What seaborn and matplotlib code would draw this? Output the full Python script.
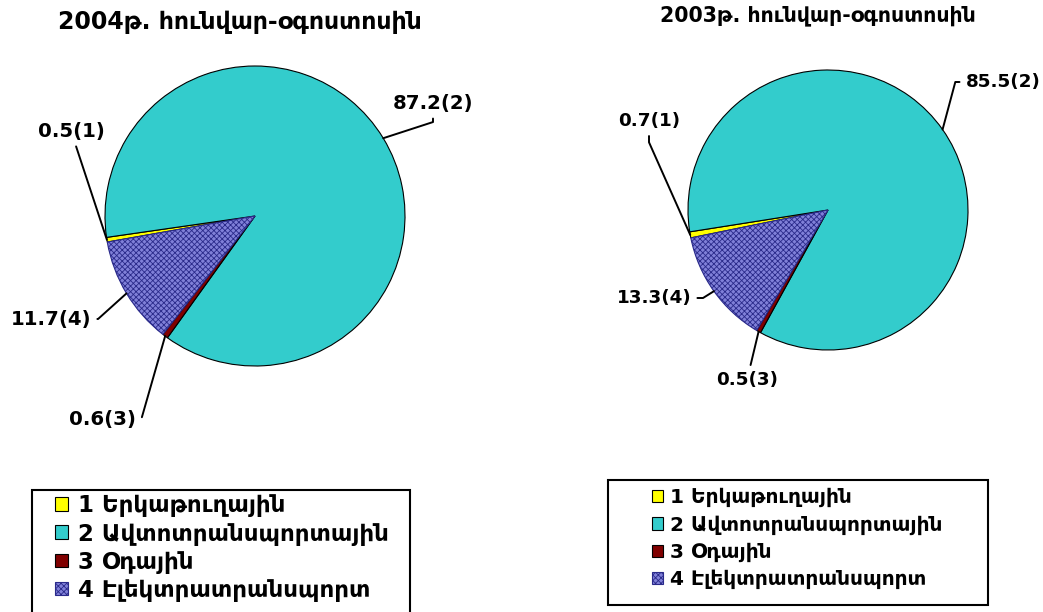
import numpy as np
import matplotlib
matplotlib.use("Agg")
import matplotlib.pyplot as plt
import seaborn as sns
from matplotlib.patches import Rectangle

categories = ["1 Երկաթուղային", "2 Ավտոտրանսպորտային", "3 Օդային", "4 Էլեկտրատրանսպորտ"]
ids = ["(1)", "(2)", "(3)", "(4)"]
share_2004 = [0.5, 87.2, 0.6, 11.7]
share_2003 = [0.7, 85.5, 0.5, 13.3]
title_2004 = "2004թ. հունվար-օգոստոսին"
title_2003 = "2003թ. հունվար-օգոստոսին"
colors = ["#FFFF00", "#33CCCC", "#800000", "#8080D8"]

sns.set_theme(style="white")
plt.rcParams["font.family"] = ["DejaVu Sans"]
plt.rcParams["text.color"] = "black"
plt.rcParams["hatch.linewidth"] = 0.6

W, H = 1043, 612
fig = plt.figure(figsize=(W / 100, H / 100), dpi=100)
ax = fig.add_axes([0, 0, 1, 1])


def px(x, y):
    # pixel position (from top-left) -> data coords
    return (x, H - y)


def draw_pie(values, center, radius, start, label_pos, conn, fs):
    wedges, _ = ax.pie(values, colors=colors, startangle=start, counterclock=False,
                       center=px(*center), radius=radius, frame=True,
                       wedgeprops=dict(edgecolor="black", linewidth=0.8))
    wedges[3].set_hatch("xxxxxx")
    wedges[3].set_edgecolor("#2a2a8a")
    for w, v, tag, pos, cs in zip(wedges, values, ids, label_pos, conn):
        ang = np.deg2rad((w.theta1 + w.theta2) / 2)
        tip = (w.center[0] + w.r * np.cos(ang), w.center[1] + w.r * np.sin(ang))
        ax.annotate(f"{v}{tag}", xy=tip, xytext=px(*pos), ha="center", va="center",
                    fontsize=fs, fontweight="bold",
                    arrowprops=dict(arrowstyle="-", color="black", lw=1.4,
                                    shrinkA=2, shrinkB=0, connectionstyle=cs))
    return wedges


w04 = draw_pie(share_2004, (255, 216), 150, 190,
               [(71, 131), (433, 103), (103, 419), (51, 319)],
               ["arc3", "angle,angleA=90,angleB=18,rad=0",
                "angle,angleA=0,angleB=74,rad=0", "angle,angleA=0,angleB=42,rad=0"],
               14.2)
w03 = draw_pie(share_2003, (828, 210), 140, 191.5,
               [(649, 121), (1003, 82), (747, 380), (654, 298)],
               ["angle,angleA=90,angleB=114,rad=0", "angle,angleA=0,angleB=75,rad=0",
                "arc3", "angle,angleA=0,angleB=32,rad=0"],
               13.2)

ax.text(*px(240, 22), title_2004, ha="center", va="center", fontsize=17, fontweight="bold")
ax.text(*px(818, 16), title_2003, ha="center", va="center", fontsize=14.8, fontweight="bold")

# legend boxes
ax.add_patch(Rectangle(px(32, 630), 378, 140, fill=False, edgecolor="black", lw=1.5))
ax.add_patch(Rectangle(px(608, 605), 380, 125, fill=False, edgecolor="black", lw=1.5))

leg_kw = dict(loc="upper left", frameon=False, borderpad=0, handlelength=0.55,
              handleheight=0.55)
fig.legend(w04, categories, bbox_to_anchor=(44 / W, 1 - 483 / H), handletextpad=0.45,
           labelspacing=0.22, prop=dict(size=16.5, weight="bold"), **leg_kw)
fig.legend(w03, categories, bbox_to_anchor=(642 / W, 1 - 478 / H), handletextpad=0.35,
           labelspacing=0.39, prop=dict(size=14.5, weight="bold"), **leg_kw)

ax.set_xlim(0, W)
ax.set_ylim(0, H)
ax.set_aspect("equal")
ax.axis("off")

fig.savefig("out.png", dpi=100)
